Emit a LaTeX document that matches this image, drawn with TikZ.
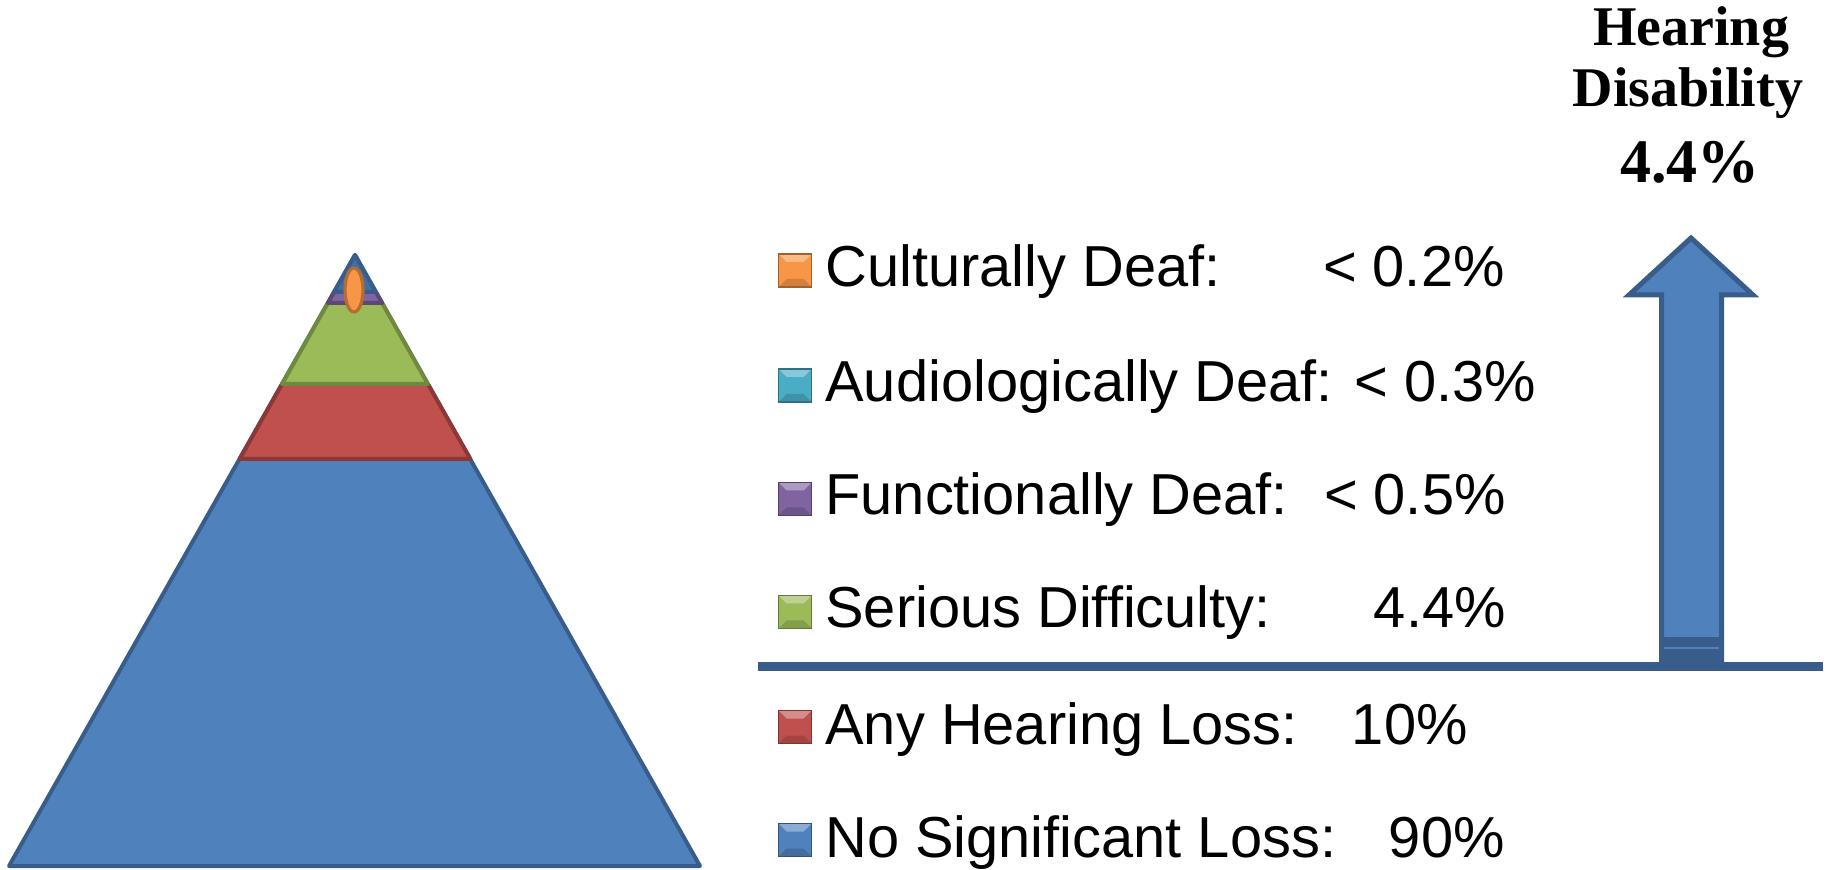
\documentclass[tikz,border=0pt]{standalone}
\usepackage{fontspec}
\setmainfont{Liberation Sans}
\newfontfamily\titlefont{Liberation Serif}
\definecolor{pblue}{HTML}{4F81BD}
\definecolor{pblued}{HTML}{385D8A}
\definecolor{pred}{HTML}{C0504D}
\definecolor{predd}{HTML}{8C3836}
\definecolor{pgreen}{HTML}{9BBB59}
\definecolor{pgreend}{HTML}{71893F}
\definecolor{ppurple}{HTML}{8064A2}
\definecolor{ppurpled}{HTML}{5C4776}
\definecolor{porange}{HTML}{F79646}
\definecolor{porangedd}{HTML}{B66D31}
\definecolor{pteal}{HTML}{4BACC6}
\begin{document}
\begin{tikzpicture}[x=0.5pt,y=-0.5pt]
\useasboundingbox (0,0) rectangle (1835,870);
\tikzset{
  layer/.style={line width=2pt, line join=round},
  legtext/.style={anchor=base west, inner sep=0pt, font=\fontsize{28.9}{34}\selectfont},
  legval/.style={anchor=base east, inner sep=0pt, font=\fontsize{28.9}{34}\selectfont},
  ttl/.style={anchor=base, inner sep=0pt, font=\titlefont\bfseries\fontsize{28}{32}\selectfont},
  legmark/.style={rectangle, minimum size=16.5pt, inner sep=0pt, fill=#1, draw=#1!65!black, line width=0.6pt,
    path picture={
      \fill[white, opacity=0.35] (path picture bounding box.north west) -- (path picture bounding box.north east)
        -- ([xshift=-4pt,yshift=-4pt]path picture bounding box.north east) -- ([xshift=4pt,yshift=-4pt]path picture bounding box.north west) -- cycle;
      \fill[black, opacity=0.15] (path picture bounding box.south west) -- (path picture bounding box.south east)
        -- ([xshift=-4pt,yshift=4pt]path picture bounding box.south east) -- ([xshift=4pt,yshift=4pt]path picture bounding box.south west) -- cycle;
    }},
}
% pyramid
\filldraw[fill=pblue, draw=pblued, layer] (355,255) -- (700,866) -- (9,866) -- cycle;
\filldraw[fill=pred, draw=predd, layer] (239.6,459) -- (470.4,459) -- (427.9,384) -- (282.1,384) -- cycle;
\filldraw[fill=pgreen, draw=pgreend, layer] (282.1,384) -- (427.9,384) -- (382.1,303) -- (327.9,303) -- cycle;
\filldraw[fill=ppurple, draw=ppurpled, layer] (327.9,303) -- (382.1,303) -- (375.9,292) -- (334.1,292) -- cycle;
\filldraw[fill=pblue!85!black, draw=pblued, layer] (334.1,292) -- (375.9,292) -- (355,255) -- cycle;
\filldraw[fill=porange, draw=porangedd, line width=1.6pt] (354,290) ellipse [x radius=9, y radius=22];

% legend markers
\node[legmark=porange] (m1) at (795,270.5) {};
\node[legmark=pteal] (m2) at (795,385.5) {};
\node[legmark=ppurple] (m3) at (795,499) {};
\node[legmark=pgreen] (m4) at (795,612) {};
\node[legmark=pred] (m5) at (795,727) {};
\node[legmark=pblue] (m6) at (795,840) {};

% legend texts
\node[legtext] (l1) at (825,287) {Culturally Deaf:};
\node[legval] (v1) at (1505,287) {< 0.2\%};
\node[legtext] (l2) at (825,402) {Audiologically Deaf: < 0.3\%};
\node[legtext] (l3) at (825,515) {Functionally Deaf:};
\node[legval] (v3) at (1506,515) {< 0.5\%};
\node[legtext] (l4) at (825,628) {Serious Difficulty:};
\node[legval] (v4) at (1506,628) {4.4\%};
\node[legtext] (l5) at (825,744) {Any Hearing Loss:};
\node[legval] (v5) at (1468,744) {10\%};
\node[legtext] (l6) at (825,857) {No Significant Loss:};
\node[legval] (v6) at (1505,857) {90\%};

% separator line
\coordinate (sepL) at (758,666);
\coordinate (sepR) at (1823,666);
\draw[pblued, line width=4.5pt] (sepL) -- (sepR);

% arrow
\filldraw[fill=pblue, draw=pblued, line width=2.5pt, line join=miter]
  (1691,238) -- (1753,295) -- (1721.5,295) -- (1721.5,662) -- (1661.5,662) -- (1661.5,295) -- (1629,295) -- cycle;
\fill[pblued] (1659,637) rectangle (1724,662);
\draw[pblue, line width=1pt] (1664,648) -- (1719,648);

% title
\node[ttl] (t1) at (1691,46) {Hearing};
\node[ttl] (t2) at (1688,107) {Disability};
\node[ttl, font=\titlefont\bfseries\fontsize{31}{36}\selectfont] (t3) at (1690,183) {4.4\%};
\end{tikzpicture}
\end{document}
